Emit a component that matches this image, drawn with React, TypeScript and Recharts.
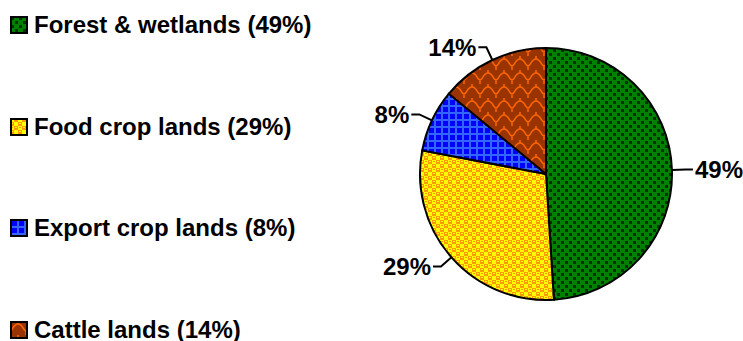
import {Cell, Legend, Pie, PieChart} from "recharts";

// land use shares, clockwise from 12 o'clock
const categories = ["Forest & wetlands", "Food crop lands", "Export crop lands", "Cattle lands"];
const shares = [49, 29, 8, 14];

const patternIds = ["forest", "food", "export", "cattle"];

const data = categories.map((name, i) => ({name, value: shares[i]}));

const FONT = "'Liberation Sans', Arial, sans-serif";
const RADIAN = Math.PI / 180;

function PieLabel(props: any) {
    const {cx, cy, midAngle, outerRadius, value} = props;
    const cos = Math.cos(-midAngle * RADIAN);
    const sin = Math.sin(-midAngle * RADIAN);
    const sx = cx + outerRadius * cos;
    const sy = cy + outerRadius * sin;
    const mx = cx + (outerRadius + 14) * cos;
    const my = cy + (outerRadius + 14) * sin;
    const right = cos >= 0;
    const ex = mx + (right ? 7 : -8);
    return (
        <g>
            <path d={`M${sx},${sy}L${mx},${my}L${ex},${my}`} stroke="#000" strokeWidth={2} fill="none"/>
            <text
                x={ex + (right ? 2 : -2)}
                y={my}
                dy="0.36em"
                textAnchor={right ? "start" : "end"}
                fontFamily={FONT}
                fontWeight="bold"
                fontSize={24}
                fill="#000"
            >
                {value}%
            </text>
        </g>
    );
}

function LegendList() {
    return (
        <div style={{position: "relative", width: 340, height: 341, fontFamily: FONT}}>
            {categories.map((name, i) => (
                <div
                    key={name}
                    style={{
                        position: "absolute",
                        left: 10,
                        top: 25 + i * 101.5 - 14,
                        height: 28,
                        display: "flex",
                        alignItems: "center",
                        whiteSpace: "nowrap",
                    }}
                >
                    <svg width={18} height={18} style={{display: "block"}}>
                        <rect x={1} y={1} width={16} height={16} fill={`url(#${patternIds[i]})`} stroke="#000" strokeWidth={2}/>
                    </svg>
                    <span style={{marginLeft: 6, fontWeight: "bold", fontSize: 24, color: "#000"}}>
                        {name} ({shares[i]}%)
                    </span>
                </div>
            ))}
        </div>
    );
}

export default function App() {
    return (
        <div style={{position: "absolute", left: 0, top: 0, background: "#fff"}}>
            <PieChart width={743} height={341} margin={{top: 0, right: 0, bottom: 0, left: 0}}>
                <defs>
                    <pattern id="forest" width={8} height={8} patternUnits="userSpaceOnUse">
                        <rect width={8} height={8} fill="#008000"/>
                        <rect x={1} y={1} width={3} height={3} fill="#003300"/>
                        <rect x={5} y={5} width={3} height={3} fill="#003300"/>
                    </pattern>
                    <pattern id="food" width={8} height={8} patternUnits="userSpaceOnUse">
                        <rect width={8} height={8} fill="#FF9900"/>
                        <rect x={0} y={0} width={4} height={4} fill="#FFFF00"/>
                        <rect x={4} y={4} width={4} height={4} fill="#FFFF00"/>
                        <rect x={5} y={1} width={2} height={1} fill="#FFFF00"/>
                        <rect x={1} y={5} width={2} height={1} fill="#FFFF00"/>
                        <rect x={1} y={1} width={2} height={1} fill="#FF9900"/>
                    </pattern>
                    <pattern id="export" width={7} height={7} patternUnits="userSpaceOnUse">
                        <rect width={7} height={7} fill="#0000FF"/>
                        <rect x={0} y={0} width={7} height={2} fill="#3366FF"/>
                        <rect x={0} y={0} width={2} height={7} fill="#3366FF"/>
                    </pattern>
                    <pattern id="cattle" width={16} height={14} patternUnits="userSpaceOnUse">
                        <rect width={16} height={14} fill="#993300"/>
                        <path
                            d="M0,10 C3,10 3,3 8,3 C13,3 13,10 16,10 M8,3 V0 M0,10 V14 M16,10 V14"
                            stroke="#FF6600"
                            strokeWidth={1.5}
                            fill="none"
                        />
                    </pattern>
                </defs>
                <Pie
                    data={data}
                    dataKey="value"
                    nameKey="name"
                    cx={546}
                    cy={174}
                    outerRadius={126}
                    startAngle={90}
                    endAngle={-270}
                    label={PieLabel}
                    labelLine={false}
                    isAnimationActive={false}
                >
                    {data.map((_, index) => (
                        <Cell
                            key={`cell-${index}`}
                            fill={`url(#${patternIds[index]})`}
                            stroke="#000"
                            strokeWidth={2}
                        />
                    ))}
                </Pie>
                <Legend
                    layout="vertical"
                    align="center"
                    verticalAlign="middle"
                    content={() => <LegendList/>}
                    wrapperStyle={{left: 0, top: 0, width: 340, height: 341}}
                />
            </PieChart>
        </div>
    );
}
